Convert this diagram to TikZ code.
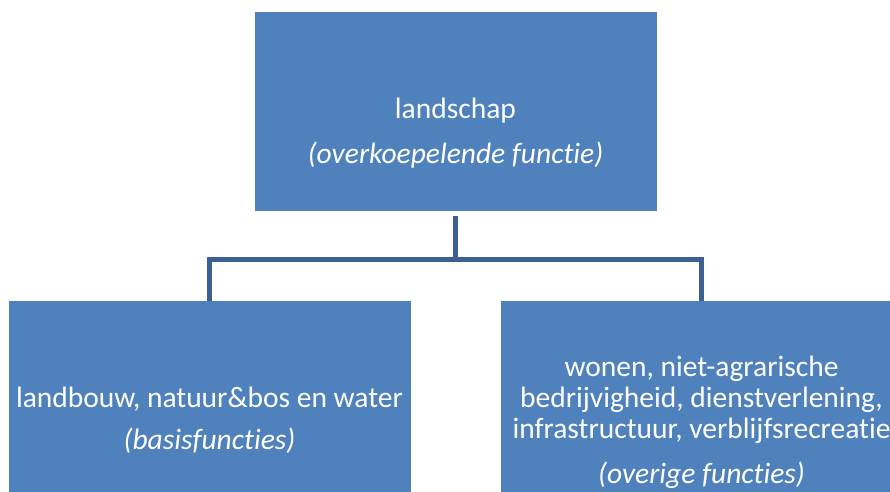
\documentclass[tikz,border=0pt]{standalone}
\usepackage{fontspec}
\setmainfont{Carlito}[Ligatures=NoCommon]
\usepackage{tikz}
\definecolor{lsblue}{RGB}{79,129,189}
\definecolor{lsline}{RGB}{60,96,146}
\usetikzlibrary{positioning}

\begin{document}
\begin{tikzpicture}[x=1pt, y=-1pt,
    box/.style={draw=lsblue, fill=lsblue, minimum width=401pt, inner sep=0pt},
    boxtext/.style={text=white, align=center, font=\fontsize{29.5}{31}\selectfont},
    conn/.style={draw=lsline, line width=5pt}]
    \useasboundingbox (0,0) rectangle (890,491);
    \node[box, minimum height=198pt] (landschap) at (455.5,111) {};
    \node[box, minimum height=200pt] (basis) at (209.5,401) {};
    \node[box, minimum height=200pt] (overig) at (701.5,401) {};
    \node[boxtext, anchor=base] (landschaptxt) at (455.5,163) {landschap\\[14pt]\textit{(overkoepelende functie)}};
    \node[boxtext, anchor=base] (basistxt) at (209.5,449) {landbouw, natuur\&bos en water\\[11pt]\textit{(basisfuncties)}};
    \node[boxtext, anchor=base] (overigtxt) at (701.5,483) {wonen, niet-agrarische\\bedrijvigheid, dienstverlening,\\infrastructuur, verblijfsrecreatie\\[14pt]\textit{(overige functies)}};
    \draw[conn] ([yshift=-6pt]landschap.south) -- ++(0,43) -| (basis.north);
    \draw[conn] ([yshift=-6pt]landschap.south) -- ++(0,43) -| (overig.north);
\end{tikzpicture}
\end{document}
